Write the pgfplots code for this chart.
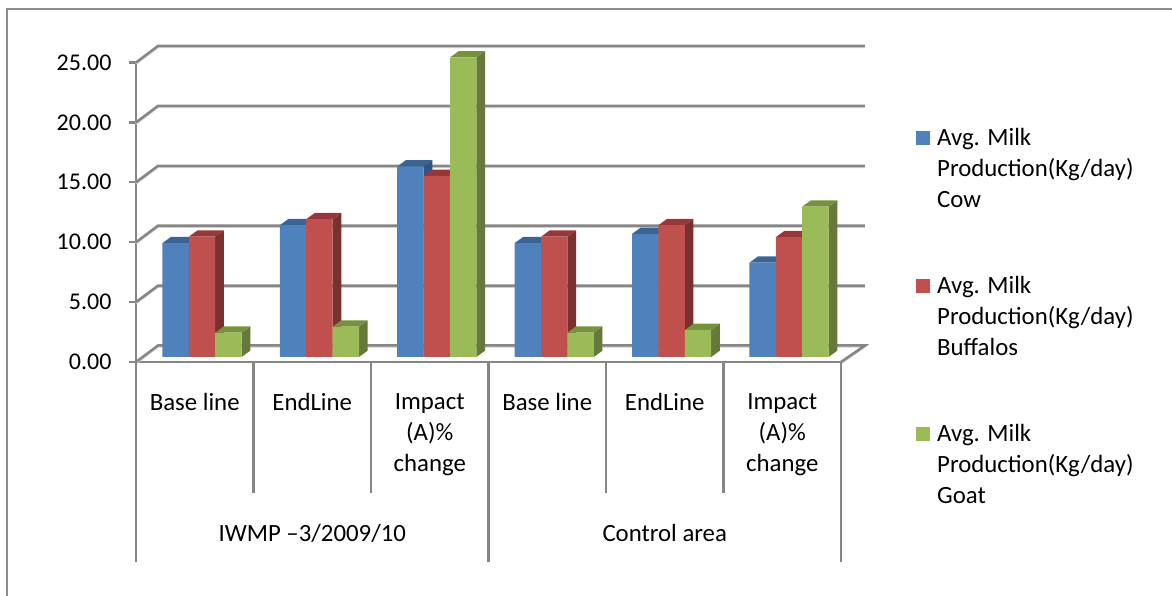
\documentclass[border=0pt]{standalone}
\usepackage{fontspec}
\setmainfont{Carlito}
\usepackage{pgfplots}
\pgfplotsset{compat=1.18}
\definecolor{gridc}{HTML}{868686}
\definecolor{gridl}{HTML}{D0D0D0}
\definecolor{framec}{HTML}{8C8C8C}
\definecolor{cowF}{HTML}{4F81BD}\definecolor{cowS}{HTML}{2F5480}\definecolor{cowT}{HTML}{3A6494}
\definecolor{bufF}{HTML}{C0504D}\definecolor{bufS}{HTML}{7A302E}\definecolor{bufT}{HTML}{94383A}
\definecolor{goaF}{HTML}{9BBB59}\definecolor{goaS}{HTML}{66783A}\definecolor{goaT}{HTML}{76923C}
% side and top faces of one bar: group, left offset in bar widths, value, side, top
\newcommand\faces[5]{%
  \pgfmathsetmacro\xl{#1+(#2)*0.2249}%
  \pgfmathsetmacro\xr{\xl+0.2249}%
  \pgfmathsetmacro\xa{\xr+0.074}%
  \pgfmathsetmacro\xb{\xl+0.074}%
  \pgfmathsetmacro\yt{#3+0.53}%
  \addplot[fill=#4,draw=none,no markers,forget plot] coordinates {(\xr,0) (\xa,0.53) (\xa,\yt) (\xr,#3)};
  \addplot[fill=#5,draw=none,no markers,forget plot] coordinates {(\xl,#3) (\xb,\yt) (\xa,\yt) (\xr,#3)};
}
\pgfplotsset{gline/.style={gridc,line width=2.5pt,no markers,forget plot,
  preaction={draw=gridl,line width=2.5pt,transform canvas={yshift=-1pt}}}}
\pgfplotsset{dline/.style={gridc,line width=2.3pt,no markers,forget plot}}
\begin{document}
\begin{tikzpicture}
\useasboundingbox (-136pt,-234pt) rectangle (1036pt,362pt);
\draw[framec,line width=2pt] (-128.5pt,-240pt) -- (-128.5pt,353pt) -- (1040pt,353pt);
\begin{axis}[
  at={(0pt,0pt)},anchor=south west,scale only axis,width=705pt,height=299.5pt,
  xmin=-0.5,xmax=5.5,ymin=0,ymax=25,clip=false,
  axis lines*=left,axis line style={-,gridc,line width=2.3pt},
  ytick={0,5,10,15,20,25},xtick={0,1,2,3,4,5},
  xticklabels={Base line,EndLine,{Impact\\(A)\%\\change},Base line,EndLine,{Impact\\(A)\%\\change}},
  xtick style={draw=none},
  ytick style={gridc,line width=2.3pt},
  tick align=outside,major tick length=7pt,
  xticklabel style={align=center,anchor=north,yshift=-21pt,font=\fontsize{24.8}{31}\selectfont},
  yticklabel style={xshift=-14pt,font=\fontsize{24}{31}\selectfont},
  yticklabel={\pgfmathprintnumber[fixed,fixed zerofill,precision=2,assume math mode=true]{\tick}},
]
\addplot[gline] coordinates {(-0.5,0) (-0.3128,1.38) (5.704,1.38) (5.5,0)};
\addplot[gline] coordinates {(-0.5,5) (-0.3128,6.38) (5.704,6.38)};
\addplot[gline] coordinates {(-0.5,10) (-0.3128,11.38) (5.704,11.38)};
\addplot[gline] coordinates {(-0.5,15) (-0.3128,16.38) (5.704,16.38)};
\addplot[gline] coordinates {(-0.5,20) (-0.3128,21.38) (5.704,21.38)};
\addplot[gline] coordinates {(-0.5,25) (-0.3128,26.38) (5.704,26.38)};
\addplot[dline] coordinates {(-0.5,0) (-0.5,-16.66)};
\addplot[dline] coordinates {(0.5,0) (0.5,-10.93)};
\addplot[dline] coordinates {(1.5,0) (1.5,-10.93)};
\addplot[dline] coordinates {(2.5,0) (2.5,-16.66)};
\addplot[dline] coordinates {(3.5,0) (3.5,-10.93)};
\addplot[dline] coordinates {(4.5,0) (4.5,-10.93)};
\addplot[dline] coordinates {(5.5,0) (5.5,-16.66)};
\node[font=\fontsize{24.8}{31}\selectfont] at (axis cs:1,-14.3) {IWMP –3/2009/10};
\node[font=\fontsize{24.8}{31}\selectfont] at (axis cs:4,-14.3) {Control area};
\end{axis}
\begin{axis}[
  at={(7.3pt,5pt)},anchor=south west,scale only axis,width=704.4pt,height=299.5pt,
  xmin=-0.5,xmax=5.5,ymin=0,ymax=25,clip=false,hide axis,
  legend style={at={(1.097,0.7713)},anchor=north west,draw=none,fill=none,inner sep=0pt,
    row sep=125.5pt,font=\fontsize{24.8}{31}\selectfont},
  legend cell align=left,
  legend image code/.code={\fill[#1] (0pt,-7pt) rectangle (14pt,7pt);\path (0pt,0pt) -- (19pt,0pt);},
]
\faces{0}{-1.5}{9.5}{cowS}{cowT}\faces{0}{-0.5}{10.04}{bufS}{bufT}\faces{0}{0.5}{2.03}{goaS}{goaT}
\faces{1}{-1.5}{11.0}{cowS}{cowT}\faces{1}{-0.5}{11.5}{bufS}{bufT}\faces{1}{0.5}{2.53}{goaS}{goaT}
\faces{2}{-1.5}{15.9}{cowS}{cowT}\faces{2}{-0.5}{15.1}{bufS}{bufT}\faces{2}{0.5}{25.0}{goaS}{goaT}
\faces{3}{-1.5}{9.5}{cowS}{cowT}\faces{3}{-0.5}{10.04}{bufS}{bufT}\faces{3}{0.5}{2.03}{goaS}{goaT}
\faces{4}{-1.5}{10.27}{cowS}{cowT}\faces{4}{-0.5}{11.0}{bufS}{bufT}\faces{4}{0.5}{2.25}{goaS}{goaT}
\faces{5}{-1.5}{7.87}{cowS}{cowT}\faces{5}{-0.5}{10.0}{bufS}{bufT}\faces{5}{0.5}{12.55}{goaS}{goaT}
\addplot[ybar,bar width=26.4pt,bar shift=-26.4pt,fill=cowF,draw=none] coordinates {(0,9.5) (1,11.0) (2,15.9) (3,9.5) (4,10.27) (5,7.87)};
\addlegendentry{\parbox[t]{210pt}{Avg. Milk\\Production(Kg/day)\\Cow}}
\addplot[ybar,bar width=26.4pt,bar shift=0pt,fill=bufF,draw=none] coordinates {(0,10.04) (1,11.5) (2,15.1) (3,10.04) (4,11.0) (5,10.0)};
\addlegendentry{\parbox[t]{210pt}{Avg. Milk\\Production(Kg/day)\\Buffalos}}
\addplot[ybar,bar width=26.4pt,bar shift=26.4pt,fill=goaF,draw=none] coordinates {(0,2.03) (1,2.53) (2,25.0) (3,2.03) (4,2.25) (5,12.55)};
\addlegendentry{\parbox[t]{210pt}{Avg. Milk\\Production(Kg/day)\\Goat}}
\end{axis}
\end{tikzpicture}
\end{document}
